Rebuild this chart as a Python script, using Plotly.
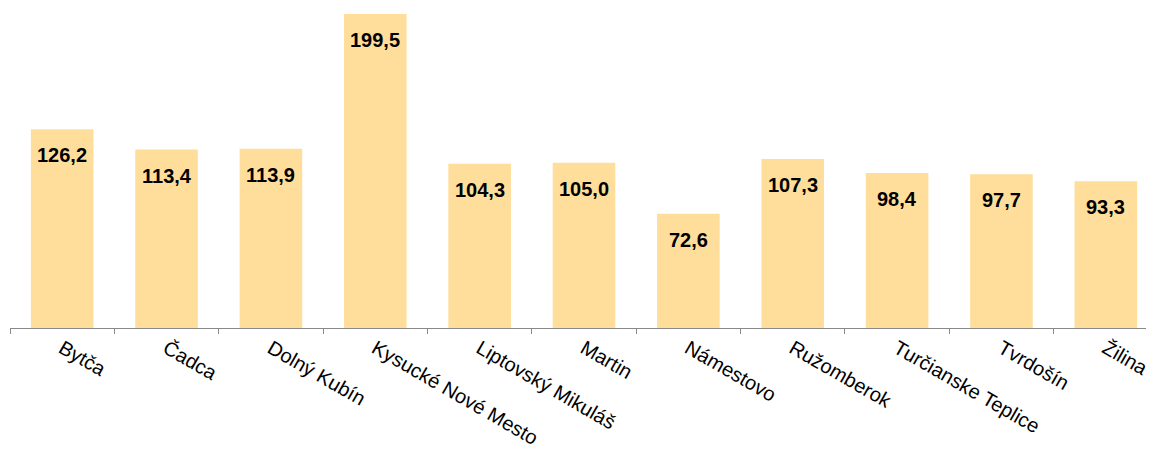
import plotly.graph_objects as go

categories = ["Bytča", "Čadca", "Dolný Kubín", "Kysucké Nové Mesto", "Liptovský Mikuláš",
              "Martin", "Námestovo", "Ružomberok", "Turčianske Teplice", "Tvrdošín", "Žilina"]
values = [126.2, 113.4, 113.9, 199.5, 104.3, 105.0, 72.6, 107.3, 98.4, 97.7, 93.3]
labels = [f"{v:.1f}".replace(".", ",") for v in values]

fig = go.Figure()
fig.add_trace(go.Bar(
    x=categories, y=values, width=0.6,
    marker=dict(color="#FFDE9B", line=dict(width=0)),
    hoverinfo="skip",
))

for c, v, t in zip(categories, values, labels):
    fig.add_annotation(x=c, y=v, text=f"<b>{t}</b>", showarrow=False,
                       yanchor="middle", yshift=-26,
                       font=dict(family="Liberation Sans, Arial", size=20, color="black"))

fig.update_layout(
    width=1154, height=450,
    margin=dict(l=2, r=4, t=0, b=130, autoexpand=False),
    paper_bgcolor="white", plot_bgcolor="white",
    showlegend=False,
    xaxis=dict(
        showline=True, linecolor="#898989", linewidth=1,
        ticks="outside", tickson="boundaries", ticklen=5, tickcolor="#898989",
        tickangle=30, automargin=False,
        tickfont=dict(family="Liberation Sans, Arial", size=20, color="black"),
        showgrid=False,
    ),
    yaxis=dict(range=[0, 203.3], visible=False, showgrid=False, automargin=False),
)

fig.write_html("out.html")
